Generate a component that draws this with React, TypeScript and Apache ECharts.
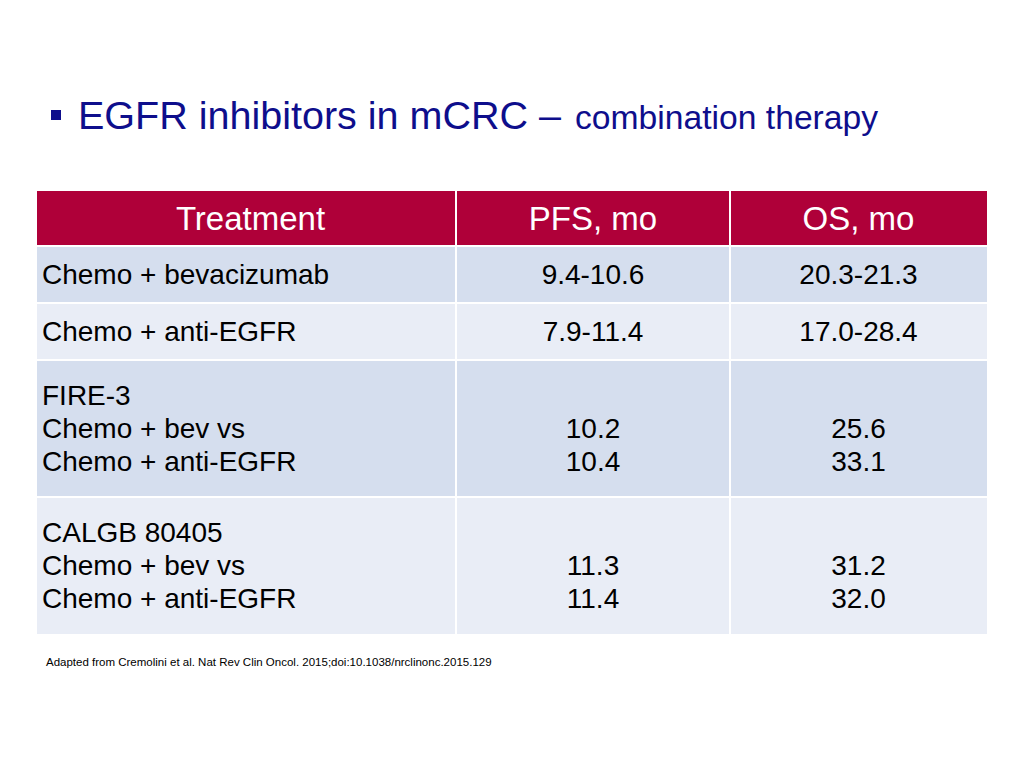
import React, { useEffect, useRef } from "react";
import * as echarts from "echarts";

const titleMain = "EGFR inhibitors in mCRC –";
const titleSub = "combination therapy";
const headers = ["Treatment", "PFS, mo", "OS, mo"];
const treatments = [
  ["Chemo + bevacizumab"],
  ["Chemo + anti-EGFR"],
  ["FIRE-3", "Chemo + bev vs", "Chemo + anti-EGFR"],
  ["CALGB 80405", "Chemo + bev vs", "Chemo + anti-EGFR"],
];
const pfsValues = [["9.4-10.6"], ["7.9-11.4"], ["10.2", "10.4"], ["11.3", "11.4"]];
const osValues = [["20.3-21.3"], ["17.0-28.4"], ["25.6", "33.1"], ["31.2", "32.0"]];
const footnote =
  "Adapted from Cremolini et al. Nat Rev Clin Oncol. 2015;doi:10.1038/nrclinonc.2015.129";

const FONT = "'Liberation Sans', Arial, Helvetica, sans-serif";
const NAVY = "#0E0E8C";
const HEADER_BG = "#AF0039";
const ROW_DARK = "#D5DEEE";
const ROW_LIGHT = "#E9EDF6";

const colX = [37, 456, 730, 987];
const rowY = [191, 246, 303, 360, 497, 634];
const LINE_H = 33;

function buildGraphics() {
  const els: any[] = [];
  // bullet
  els.push({
    type: "rect",
    shape: { x: 51, y: 110, width: 10, height: 10 },
    style: { fill: NAVY },
  });
  // title
  els.push({
    type: "text",
    x: 78,
    y: 115.5,
    scaleX: 1.04,
    style: {
      text: titleMain,
      fill: NAVY,
      font: `38px ${FONT}`,
      textAlign: "left",
      textVerticalAlign: "middle",
    },
  });
  els.push({
    type: "text",
    x: 575,
    y: 117.5,
    scaleX: 1.02,
    style: {
      text: titleSub,
      fill: NAVY,
      font: `33px ${FONT}`,
      textAlign: "left",
      textVerticalAlign: "middle",
    },
  });

  const nRows = rowY.length - 1;
  for (let r = 0; r < nRows; r++) {
    const top = rowY[r] + (r > 0 ? 1 : 0);
    const bottom = rowY[r + 1] - (r < nRows - 1 ? 1 : 0);
    const fill = r === 0 ? HEADER_BG : r % 2 === 1 ? ROW_DARK : ROW_LIGHT;
    for (let c = 0; c < 3; c++) {
      const left = colX[c] + (c > 0 ? 1 : 0);
      const right = colX[c + 1] - (c < 2 ? 1 : 0);
      els.push({
        type: "rect",
        shape: { x: left, y: top, width: right - left, height: bottom - top },
        style: { fill },
      });
    }
  }

  // header texts
  const hy = (rowY[0] + rowY[1]) / 2;
  headers.forEach((h, c) => {
    els.push({
      type: "text",
      x: (colX[c] + colX[c + 1]) / 2 + (c === 0 ? 4 : 0),
      y: hy,
      style: {
        text: h,
        fill: "#FFFFFF",
        font: `33px ${FONT}`,
        textAlign: "center",
        textVerticalAlign: "middle",
      },
    });
  });

  // body rows
  treatments.forEach((lines, i) => {
    const top = rowY[i + 1];
    const bottom = rowY[i + 2];
    const cy = (top + bottom) / 2;
    const n = lines.length;
    const lineY = (k: number) => cy + (k - (n - 1) / 2) * LINE_H;
    lines.forEach((t, k) => {
      els.push({
        type: "text",
        x: 42,
        y: lineY(k),
        style: {
          text: t,
          fill: "#000000",
          font: `28px ${FONT}`,
          textAlign: "left",
          textVerticalAlign: "middle",
        },
      });
    });
    [pfsValues[i], osValues[i]].forEach((vals, j) => {
      const c = j + 1;
      const offset = n - vals.length;
      vals.forEach((v, k) => {
        els.push({
          type: "text",
          x: (colX[c] + colX[c + 1]) / 2,
          y: lineY(k + offset),
          style: {
            text: v,
            fill: "#000000",
            font: `28px ${FONT}`,
            textAlign: "center",
            textVerticalAlign: "middle",
          },
        });
      });
    });
  });

  // footnote
  els.push({
    type: "text",
    x: 46,
    y: 662,
    style: {
      text: footnote,
      fill: "#000000",
      font: `11.5px ${FONT}`,
      textAlign: "left",
      textVerticalAlign: "middle",
    },
  });
  return els;
}

export default function App() {
  const ref = useRef<HTMLDivElement>(null);
  useEffect(() => {
    document.body.style.margin = "0";
    if (!ref.current) return;
    const chart = echarts.init(ref.current, undefined, { renderer: "svg" });
    chart.setOption({
      animation: false,
      backgroundColor: "#FFFFFF",
      graphic: { elements: buildGraphics() },
    });
    return () => chart.dispose();
  }, []);
  return <div ref={ref} style={{ width: 1024, height: 768 }} />;
}
